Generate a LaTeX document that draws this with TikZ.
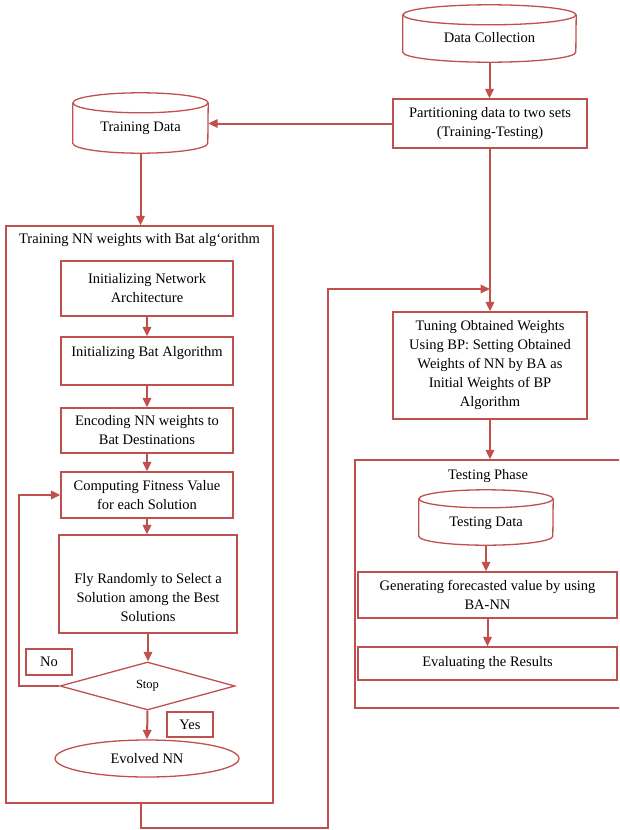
\documentclass[tikz,border=0pt]{standalone}
\usepackage{fontspec}
\setmainfont{Liberation Serif}
\usetikzlibrary{arrows.meta,shapes.geometric,calc}
\definecolor{rd}{HTML}{C0504D}
\newcommand\cylout[3]{%
 \draw[cylline] ([yshift=-#3pt]#1.north west) -- ([yshift=#3pt]#1.south west) arc[start angle=180,end angle=360,x radius=#2pt,y radius=#3pt] -- ([yshift=-#3pt]#1.north east);
 \draw[cylline] ([yshift=-#3pt]#1.north) ellipse[x radius=#2pt,y radius=#3pt];}
\tikzset{
 every node/.style={font=\fontsize{14.5pt}{19pt}\selectfont, text=black},
 box/.style={draw=rd, line width=1.3pt, rectangle, inner sep=0pt, align=center},
 cyl/.style={rectangle, inner sep=0pt, align=center, text height=21pt, text depth=4pt},
 cylline/.style={draw=rd, line width=1.3pt},
 conn/.style={draw=rd, line width=2pt, -{Triangle[length=9.5pt,width=8.5pt]}},
}
\begin{document}
\begin{tikzpicture}[x=1pt,y=-1pt]
\useasboundingbox (0,0) rectangle (619,830);
\clip (0,0) rectangle (619,830);
% top
\node[cyl, minimum width=173pt, minimum height=57pt] (dc) at (489.5,33.5) {Data Collection};
\cylout{dc}{86.5}{10}
\node[box, minimum width=194pt, minimum height=49pt] (part) at (490,123.5) {Partitioning data to two sets\\(Training-Testing)};
\node[cyl, minimum width=135pt, minimum height=60pt] (td) at (140.5,123) {Training Data};
\cylout{td}{67.5}{10}
% training box
\node[box, minimum width=267pt, minimum height=577pt] (trainbox) at (139.5,514.5) {};
\node (traintitle) at (139.5,240) {Training NN weights with Bat alg\symbol{96}orithm};
\node[box, minimum width=172pt, minimum height=55pt] (n1) at (147,288.5) {Initializing Network\\Architecture};
\node[box, minimum width=172pt, minimum height=48pt, text height=10pt, text depth=18.5pt] (n2) at (147,361) {Initializing Bat Algorithm};
\node[box, minimum width=172pt, minimum height=45pt] (n3) at (147,430.5) {Encoding NN weights to\\Bat Destinations};
\node[box, minimum width=172pt, minimum height=46pt] (n4) at (147,495) {Computing Fitness Value\\for each Solution};
\node[box, minimum width=178pt, minimum height=98pt] (n5) at (148,584) {};
\node[align=center] (n5text) at (148,598) {Fly Randomly to Select a\\Solution among the Best\\Solutions};
\node[diamond, draw=rd, line width=1.3pt, inner sep=0pt, aspect=3.6, minimum width=175pt, minimum height=48pt, font=\fontsize{12.5pt}{14pt}\selectfont] (dia) at (147.5,686) {Stop};
\node[box, minimum width=46pt, minimum height=26pt] (no) at (49,662) {No};
\node[box, minimum width=46pt, minimum height=25pt] (yes) at (190,724.5) {Yes};
\node[ellipse, draw=rd, line width=1.3pt, inner sep=0pt, minimum width=184pt, minimum height=37pt] (evo) at (147,758.5) {Evolved NN};
% right side
\node[box, minimum width=194pt, minimum height=107pt] (tune) at (490,365.5) {Tuning Obtained Weights\\Using BP: Setting Obtained\\Weights of NN by BA as\\Initial Weights of BP\\Algorithm};
\node[box, minimum width=266pt, minimum height=248pt] (testbox) at (488,584) {};
\node (testtitle) at (488,476) {Testing Phase};
\node[cyl, minimum width=134pt, minimum height=55pt] (tdat) at (486,517.5) {Testing Data};
\cylout{tdat}{67}{9}
\node[box, minimum width=259pt, minimum height=46pt] (gen) at (487.5,595) {Generating forecasted value by using\\BA-NN};
\node[box, minimum width=259pt, minimum height=33pt] (eval) at (487.5,663.5) {Evaluating the Results};
% connectors
\draw[conn] (dc.south) -- (dc.south |- part.north);
\draw[conn] (part.west) -- (part.west -| td.east);
\draw[conn] (td.south) -- (td.south |- trainbox.north);
\draw[conn] (n1.south) -- (n2.north);
\draw[conn] (n2.south) -- (n3.north);
\draw[conn] (n3.south) -- (n4.north);
\draw[conn] (n4.south) -- (n4.south |- n5.north);
\draw[conn] (n5.south) -- (n5.south |- dia.north);
\draw[conn] (dia.south) -- (evo.north);
\coordinate (fb) at (19,686);
\draw[conn] (dia.west) -- (fb) |- (n4.west);
\coordinate (b1) at (141,828);
\coordinate (b2) at (328,289);
\draw[conn] (trainbox.south -| b1) -- (b1) -| (b2) -- (b2 -| part.south);
\draw[conn] (part.south) -- (tune.north);
\draw[conn] (tune.south) -- (tune.south |- testbox.north);
\draw[conn] (tdat.south) -- (tdat.south |- gen.north);
\draw[conn] (gen.south) -- (eval.north);
\end{tikzpicture}
\end{document}
